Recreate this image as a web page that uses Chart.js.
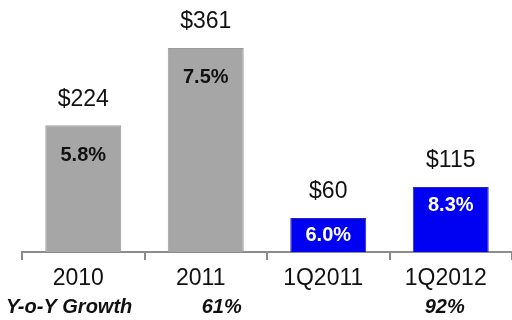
<!DOCTYPE html>
<html>
<head>
<meta charset="utf-8">
<script src="https://cdn.jsdelivr.net/npm/chart.js@4/dist/chart.umd.min.js"></script>
<style>
  html, body { margin: 0; padding: 0; background: #fff; }
  #wrap { width: 512px; height: 320px; }
</style>
</head>
<body>
<div id="wrap"><canvas id="revChart"></canvas></div>
<script>
// revenue ($M) per period, share labels inside bars, growth row under the axis
const periods = ['2010', '2011', '1Q2011', '1Q2012'];
const revenue = [224, 361, 60, 115];
const shareLabels = ['5.8%', '7.5%', '6.0%', '8.3%'];
const growthLabels = ['', '61%', '', '92%'];
const growthTitle = 'Y-o-Y Growth';

const FONT = '"Liberation Sans", Arial, sans-serif';
const barColors = ['#a6a6a6', '#a6a6a6', '#0000f2', '#0000f2'];
const edgeColors = ['#9a9a9a', '#9a9a9a', '#2a2aa8', '#2a2aa8'];
const shareColors = ['#111', '#111', '#fff', '#fff'];

const barLabels = {
  id: 'barLabels',
  afterDatasetsDraw(chart) {
    const ctx = chart.ctx;
    const meta = chart.getDatasetMeta(0);
    ctx.save();
    ctx.textAlign = 'center';
    ctx.textBaseline = 'middle';
    meta.data.forEach((bar, i) => {
      const h = bar.base - bar.y;
      ctx.fillStyle = '#111';
      ctx.font = '23px ' + FONT;
      ctx.fillText('$' + revenue[i], bar.x, bar.y - 26);

      // short bars get the label centred, tall ones near the top
      const off = h < 45 ? h / 2 : Math.min(30, h * 0.28);
      ctx.fillStyle = shareColors[i];
      ctx.font = 'bold 20px ' + FONT;
      ctx.fillText(shareLabels[i], bar.x, bar.y + off);
    });
    ctx.restore();
  }
};

const growthRow = {
  id: 'growthRow',
  afterDraw(chart) {
    const ctx = chart.ctx;
    const x = chart.scales.x;
    const nudge = [0, 16, 0, -6];
    ctx.save();
    ctx.fillStyle = '#111';
    ctx.font = 'italic bold 20px ' + FONT;
    ctx.textBaseline = 'middle';
    ctx.textAlign = 'left';
    ctx.fillText(growthTitle, 6, 307);
    ctx.textAlign = 'center';
    growthLabels.forEach((g, i) => {
      if (g) ctx.fillText(g, x.getPixelForValue(i) + nudge[i], 307);
    });
    ctx.restore();
  }
};

new Chart(document.getElementById('revChart'), {
  type: 'bar',
  data: {
    labels: periods,
    datasets: [{
      data: revenue,
      backgroundColor: barColors,
      borderColor: edgeColors,
      borderWidth: 1,
      categoryPercentage: 1,
      barPercentage: 0.62
    }]
  },
  options: {
    responsive: true,
    maintainAspectRatio: false,
    animation: false,
    layout: { padding: { top: 10, left: 22, right: 0, bottom: 0 } },
    plugins: { legend: { display: false }, tooltip: { enabled: false } },
    scales: {
      y: { display: false, min: 0, max: 428 },
      x: {
        afterFit: s => { s.height = 68; },
        border: { display: true, color: '#8c8c8c', width: 2 },
        grid: {
          offset: true,
          drawOnChartArea: false,
          tickLength: 8,
          color: '#8c8c8c',
          lineWidth: 2
        },
        ticks: {
          color: '#111',
          font: { family: FONT, size: 23 },
          padding: 5,
          labelOffset: -5,
          maxRotation: 0
        }
      }
    }
  },
  plugins: [barLabels, growthRow]
});
</script>
</body>
</html>
